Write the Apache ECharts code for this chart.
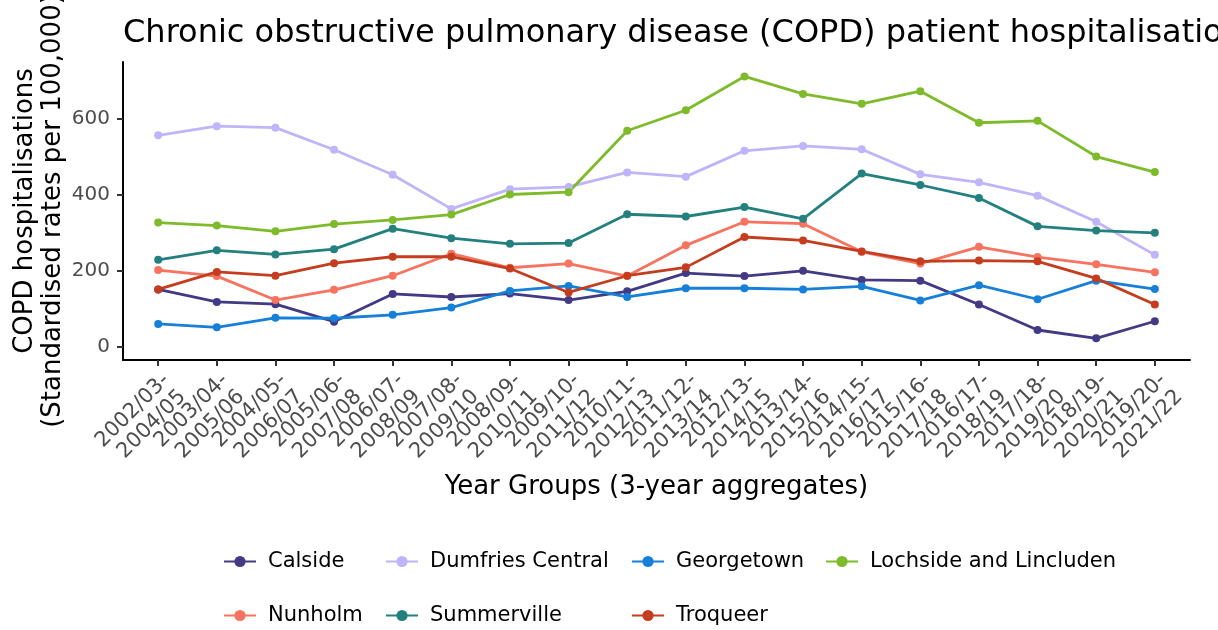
<!DOCTYPE html>
<html>
<head>
<meta charset="utf-8">
<script src="https://cdn.jsdelivr.net/npm/echarts@6/dist/echarts.min.js"></script>
<style>
  html, body { margin: 0; padding: 0; background: #fff; }
  #chart { width: 1218px; height: 630px; }
</style>
</head>
<body>
<div id="chart"></div>
<script>
// year groups (3-year aggregates)
var yearGroups = [
	'2002/03-\n2004/05', '2003/04-\n2005/06', '2004/05-\n2006/07', '2005/06-\n2007/08',
	'2006/07-\n2008/09', '2007/08-\n2009/10', '2008/09-\n2010/11', '2009/10-\n2011/12',
	'2010/11-\n2012/13', '2011/12-\n2013/14', '2012/13-\n2014/15', '2013/14-\n2015/16',
	'2014/15-\n2016/17', '2015/16-\n2017/18', '2016/17-\n2018/19', '2017/18-\n2019/20',
	'2018/19-\n2020/21', '2019/20-\n2021/22'
];

var calside = [151, 118, 112, 66, 139, 131, 140, 123, 146, 194, 186, 200, 176, 174, 111, 44, 22, 67];
var dumfriesCentral = [557, 581, 577, 519, 453, 363, 415, 421, 459, 448, 516, 529, 520, 454, 433, 398, 329, 242];
var georgetown = [60, 51, 76, 75, 84, 103, 147, 160, 131, 154, 154, 151, 159, 122, 162, 125, 174, 152];
var lochside = [327, 319, 304, 323, 334, 348, 401, 407, 569, 623, 712, 666, 640, 673, 590, 595, 501, 460];
var nunholm = [202, 186, 123, 150, 187, 245, 208, 219, 186, 267, 329, 324, 250, 219, 263, 236, 217, 196];
var summerville = [229, 254, 243, 257, 311, 286, 271, 273, 349, 343, 368, 337, 456, 426, 392, 317, 306, 300];
var troqueer = [151, 197, 187, 220, 237, 237, 206, 143, 187, 209, 289, 280, 251, 225, 227, 225, 180, 111];

var yTicks = [0, 200, 400, 600];

var seriesNames = ['Calside', 'Dumfries Central', 'Georgetown', 'Lochside and Lincluden', 'Nunholm', 'Summerville', 'Troqueer'];
var seriesValues = [calside, dumfriesCentral, georgetown, lochside, nunholm, summerville, troqueer];
var colors = ['#433a85', '#c0b4fb', '#1680d8', '#7ebb2b', '#f7735f', '#23807f', '#c53d1f'];

var xIndex = yearGroups.map(function (d, i) { return i; });
// labels split over two axes so none get dropped for overlapping
var xEven = xIndex.filter(function (i) { return i % 2 === 0; });
var xOdd = xIndex.filter(function (i) { return i % 2 === 1; });

var chart = echarts.init(document.getElementById('chart'));

var series = seriesNames.map(function (name, k) {
	return {
		name: name,
		type: 'line',
		data: seriesValues[k].map(function (v, i) { return [i, v]; }),
		symbol: 'circle',
		symbolSize: 8,
		lineStyle: { width: 2.8, color: colors[k] },
		itemStyle: { color: colors[k] },
		emphasis: { disabled: true },
		animation: false
	};
});

// one legend per item, in a 4-column grid like the original
var legendCols = [218, 380, 626, 820];
var legendRows = [546, 600];
var legends = seriesNames.map(function (name, k) {
	var col = k < 4 ? k : k - 4;
	var row = k < 4 ? 0 : 1;
	return {
		left: legendCols[col],
		top: legendRows[row],
		itemWidth: 32,
		itemHeight: 14,
		data: [name],
		textStyle: { fontSize: 21, color: '#000', fontFamily: 'DejaVu Sans', padding: [0, 0, 0, 7] },
		selectedMode: false
	};
});

function labelAxis(values, showLine) {
	return {
		type: 'value',
		min: -0.6,
		max: 17.6,
		position: 'bottom',
		axisLine: { show: showLine, onZero: false, lineStyle: { color: '#000', width: 2 } },
		axisTick: { show: showLine, length: 6, customValues: xIndex, lineStyle: { color: '#333', width: 2 } },
		axisLabel: {
			customValues: values,
			rotate: 45,
			verticalAlign: 'top',
			fontSize: 21,
			color: '#4d4d4d',
			fontFamily: 'DejaVu Sans',
			lineHeight: 23,
			margin: 9,
			formatter: function (v) { return yearGroups[Math.round(v)]; }
		},
		splitLine: { show: false }
	};
}

var xMain = labelAxis(xEven, true);
xMain.name = 'Year Groups (3-year aggregates)';
xMain.nameLocation = 'middle';
xMain.nameGap = 114;
xMain.nameMoveOverlap = false;
xMain.nameTextStyle = { fontSize: 26, color: '#000', fontFamily: 'DejaVu Sans' };
var xSecond = labelAxis(xOdd, false);

var option = {
	backgroundColor: '#fff',
	color: colors,
	title: {
		text: 'Chronic obstructive pulmonary disease (COPD) patient hospitalisations',
		left: 118,
		top: 13,
		textStyle: { fontSize: 32, fontWeight: 'normal', color: '#000', fontFamily: 'DejaVu Sans' }
	},
	legend: legends,
	grid: { left: 123, right: 28, top: 62, bottom: 270, containLabel: false, outerBoundsMode: 'none' },
	xAxis: [xMain, xSecond],
	yAxis: {
		type: 'value',
		min: -35,
		max: 750,
		name: 'COPD hospitalisations\n(Standardised rates per 100,000)',
		nameLocation: 'middle',
		nameGap: 56,
		nameMoveOverlap: false,
		nameTextStyle: { fontSize: 26, color: '#000', fontFamily: 'DejaVu Sans', lineHeight: 28 },
		axisLine: { show: true, onZero: false, lineStyle: { color: '#000', width: 2 } },
		axisTick: { show: true, length: 6, customValues: yTicks, lineStyle: { color: '#333', width: 2 } },
		axisLabel: {
			customValues: yTicks,
			fontSize: 20,
			color: '#4d4d4d',
			fontFamily: 'DejaVu Sans',
			margin: 13
		},
		splitLine: { show: false }
	},
	series: series
};

chart.setOption(option);
</script>
</body>
</html>
